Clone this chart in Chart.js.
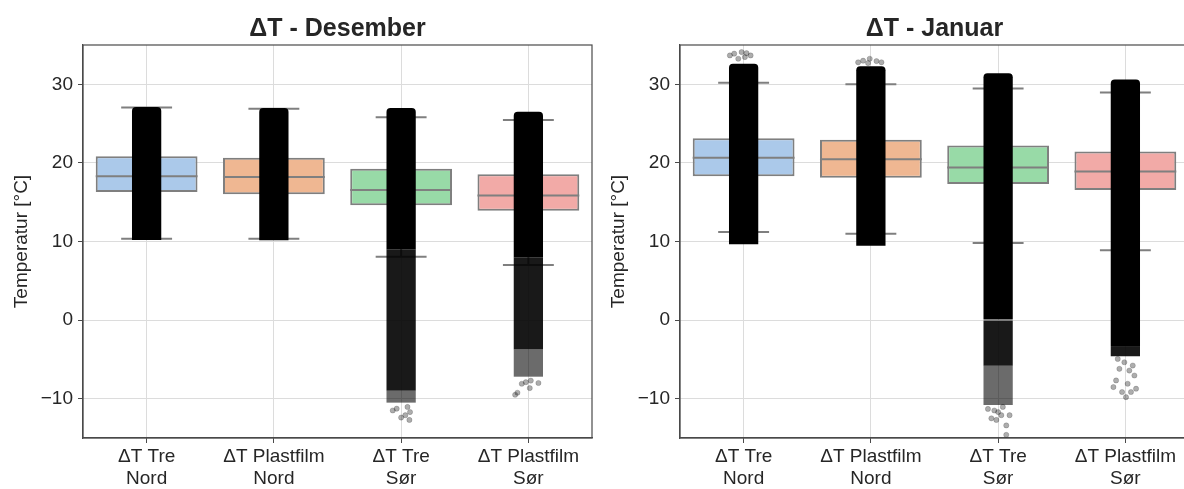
<!DOCTYPE html>
<html lang="no">
<head>
  <meta charset="UTF-8">
  <title>ΔT - Desember / Januar</title>
  <script src="https://cdn.jsdelivr.net/npm/chart.js"></script>
  <style>
    html, body { margin: 0; padding: 0; background: #fff; }
    body { width: 1184px; height: 489px; overflow: hidden; position: relative; }
    canvas { position: absolute; top: 0; }
    #decChart { left: 0; }
    #janChart { left: 597px; }
  </style>
</head>
<body>
  <canvas id="decChart" width="600" height="489"></canvas>
  <canvas id="janChart" width="600" height="489"></canvas>

  <script>
    // Categories and axis ticks
    const categories = [['ΔT Tre', 'Nord'], ['ΔT Plastfilm', 'Nord'], ['ΔT Tre', 'Sør'], ['ΔT Plastfilm', 'Sør']];
    const yTicks = [-10, 0, 10, 20, 30];

    // Desember: box statistics
    const decQ1 = [16.3, 16.0, 14.6, 13.9];
    const decMedian = [18.3, 18.2, 16.55, 15.85];
    const decQ3 = [20.85, 20.65, 19.25, 18.55];
    const decWhiskerLow = [10.35, 10.35, 8.05, 7.0];
    const decWhiskerHigh = [27.05, 26.9, 25.8, 25.45];
    // Desember: strip plot (dense / sparser / sparsest value ranges)
    const decStripDense = [[10.2, 27.1], [10.15, 27.0], [9.0, 27.0], [8.0, 26.5]];
    const decStripMid = [null, null, [-9.0, 9.0], [-3.7, 8.0]];
    const decStripLight = [null, null, [-10.5, -9.0], [-7.2, -3.7]];
    // Desember: lone points [category, jitter, value]
    const decOutliers = [
      [2, -0.066, -11.5], [2, -0.035, -11.27], [2, 0.05, -11.05], [2, 0.07, -11.7],
      [2, 0.0, -12.4], [2, 0.065, -12.7], [2, 0.033, -12.1],
      [3, -0.104, -9.5], [3, -0.086, -9.24], [3, -0.052, -8.1], [3, -0.02, -7.9],
      [3, 0.019, -7.7], [3, 0.079, -8.0], [3, 0.011, -8.65]
    ];

    // Januar: box statistics
    const janQ1 = [18.3, 18.1, 17.3, 16.55];
    const janMedian = [20.67, 20.45, 19.4, 18.9];
    const janQ3 = [23.15, 22.95, 22.2, 21.45];
    const janWhiskerLow = [11.2, 11.0, 9.8, 8.9];
    const janWhiskerHigh = [30.2, 30.0, 29.45, 28.95];
    // Januar: strip plot
    const janStripDense = [[9.65, 32.6], [9.45, 32.3], [0.0, 31.4], [-3.3, 30.6]];
    const janStripMid = [null, null, [-5.8, 0.0], [-4.6, -3.3]];
    const janStripLight = [null, null, [-10.8, -5.8], null];
    const janOutliers = [
      [0, -0.108, 33.67], [0, -0.074, 33.9], [0, -0.016, 34.1], [0, 0.023, 33.96],
      [0, 0.055, 33.67], [0, -0.042, 33.25], [0, 0.01, 33.46],
      [1, -0.1, 32.8], [1, -0.061, 33.0], [1, -0.009, 33.25], [1, 0.044, 32.95],
      [1, 0.083, 32.8], [1, -0.022, 32.7],
      [2, -0.053, -12.5], [2, -0.014, -12.7], [2, 0.025, -12.1], [2, 0.09, -12.1],
      [2, 0.064, -13.4], [2, 0.0, -11.7], [2, -0.08, -11.3], [2, 0.064, -14.6],
      [2, -0.03, -11.5], [2, 0.037, -11.05],
      [3, -0.094, -8.52], [3, -0.073, -7.68], [3, -0.047, -6.2], [3, -0.026, -9.15],
      [3, 0.005, -9.8], [3, 0.044, -9.15], [3, 0.084, -8.73], [3, 0.071, -7.05],
      [3, 0.031, -6.42], [3, -0.008, -5.36], [3, 0.058, -5.78], [3, -0.06, -4.94],
      [3, 0.018, -8.1]
    ];

    const boxColors = ['#abc9ea', '#efb792', '#98daa7', '#f2aaa7'];
    const lineGray = '#7f7f7f';
    const textColor = '#262626';
    const edgeColor = '#4a4a4a';
    const fontFamily = '"Liberation Sans", Arial, sans-serif';

    // Median, whiskers and caps, drawn right after the boxes (under the strip points)
    const boxLines = {
      id: 'boxLines',
      afterDatasetDraw(chart, args) {
        const stats = chart.data.datasets[args.index].boxStats;
        if (!stats) return;
        const { ctx, scales: { x, y } } = chart;
        const unit = x.getPixelForValue(1) - x.getPixelForValue(0);
        ctx.save();
        ctx.strokeStyle = lineGray;
        ctx.lineWidth = 2;
        stats.median.forEach((m, i) => {
          const xc = x.getPixelForValue(i);
          const line = (x1, y1, x2, y2) => {
            ctx.beginPath(); ctx.moveTo(x1, y1); ctx.lineTo(x2, y2); ctx.stroke();
          };
          line(xc - unit * 0.4, y.getPixelForValue(m), xc + unit * 0.4, y.getPixelForValue(m));
          line(xc, y.getPixelForValue(stats.q3[i]), xc, y.getPixelForValue(stats.hi[i]));
          line(xc, y.getPixelForValue(stats.q1[i]), xc, y.getPixelForValue(stats.lo[i]));
          line(xc - unit * 0.2, y.getPixelForValue(stats.hi[i]), xc + unit * 0.2, y.getPixelForValue(stats.hi[i]));
          line(xc - unit * 0.2, y.getPixelForValue(stats.lo[i]), xc + unit * 0.2, y.getPixelForValue(stats.lo[i]));
        });
        ctx.restore();
      }
    };

    // Frame around the plot area (top and right sides)
    const frame = {
      id: 'frame',
      afterDraw(chart) {
        const { ctx, chartArea: a } = chart;
        ctx.save();
        ctx.strokeStyle = edgeColor;
        ctx.lineWidth = 1.2;
        ctx.strokeRect(a.left, a.top, a.right - a.left, a.bottom - a.top);
        ctx.restore();
      }
    };

    function toBars(ranges) {
      return ranges.map((r, i) => (r ? { x: i, y: r } : null)).filter(Boolean);
    }

    function makeChart(id, title, q1, median, q3, lo, hi, dense, mid, light, outliers) {
      const stripOpts = { grouped: false, barPercentage: 0.23, categoryPercentage: 1, borderSkipped: false };
      return new Chart(document.getElementById(id), {
        type: 'bar',
        data: {
          datasets: [
            {
              type: 'scatter',
              data: outliers.map(p => ({ x: p[0] + p[1], y: p[2] })),
              backgroundColor: 'rgba(0,0,0,0.32)',
              borderColor: 'rgba(0,0,0,0.22)',
              borderWidth: 0.8,
              pointRadius: 2.6,
              order: 1
            },
            Object.assign({ data: toBars(dense), backgroundColor: '#000', order: 2,
              borderRadius: { topLeft: 4, topRight: 4 } }, stripOpts),
            Object.assign({ data: toBars(mid), backgroundColor: 'rgba(0,0,0,0.9)', order: 3 }, stripOpts),
            Object.assign({ data: toBars(light), backgroundColor: 'rgba(0,0,0,0.58)', order: 4 }, stripOpts),
            {
              data: q1.map((v, i) => ({ x: i, y: [v, q3[i]] })),
              backgroundColor: boxColors,
              borderColor: lineGray,
              borderWidth: 2,
              borderSkipped: false,
              grouped: false,
              barPercentage: 0.8,
              categoryPercentage: 1,
              order: 5,
              boxStats: { q1, median, q3, lo, hi }
            }
          ]
        },
        options: {
          responsive: false,
          animation: false,
          events: [],
          layout: { padding: { left: 0, right: 8, top: 0, bottom: 0 } },
          plugins: {
            legend: { display: false },
            tooltip: { enabled: false },
            title: {
              display: true,
              text: title,
              fullSize: false,
              color: textColor,
              font: { family: fontFamily, size: 25, weight: 'bold', lineHeight: 1.2 },
              padding: { top: 14, bottom: 1 }
            }
          },
          scales: {
            x: {
              type: 'linear',
              min: -0.5,
              max: 3.5,
              offset: false,
              afterBuildTicks: s => { s.ticks = categories.map((c, i) => ({ value: i })); },
              afterFit: s => { s.height = 51; },
              ticks: {
                autoSkip: false,
                maxRotation: 0,
                padding: 2,
                color: textColor,
                font: { family: fontFamily, size: 19, lineHeight: 1.2 },
                callback: v => categories[v]
              },
              grid: { color: '#dcdcdc', tickColor: edgeColor, tickLength: 5, offset: false },
              border: { color: edgeColor, width: 1.2 }
            },
            y: {
              min: -15,
              max: 35,
              afterBuildTicks: s => { s.ticks = yTicks.map(v => ({ value: v })); },
              afterFit: s => { s.width = 83; },
              ticks: {
                padding: 5,
                color: textColor,
                font: { family: fontFamily, size: 19 },
                callback: v => (v < 0 ? '\u2212' + (-v) : String(v))
              },
              grid: { color: '#dcdcdc', tickColor: edgeColor, tickLength: 5 },
              border: { color: edgeColor, width: 1.2 },
              title: {
                display: true,
                text: 'Temperatur [°C]',
                color: textColor,
                font: { family: fontFamily, size: 19 },
                padding: { top: 10, bottom: 0 }
              }
            }
          }
        },
        plugins: [boxLines, frame]
      });
    }

    makeChart('decChart', 'ΔT - Desember', decQ1, decMedian, decQ3, decWhiskerLow, decWhiskerHigh,
      decStripDense, decStripMid, decStripLight, decOutliers);
    makeChart('janChart', 'ΔT - Januar', janQ1, janMedian, janQ3, janWhiskerLow, janWhiskerHigh,
      janStripDense, janStripMid, janStripLight, janOutliers);
  </script>
</body>
</html>
